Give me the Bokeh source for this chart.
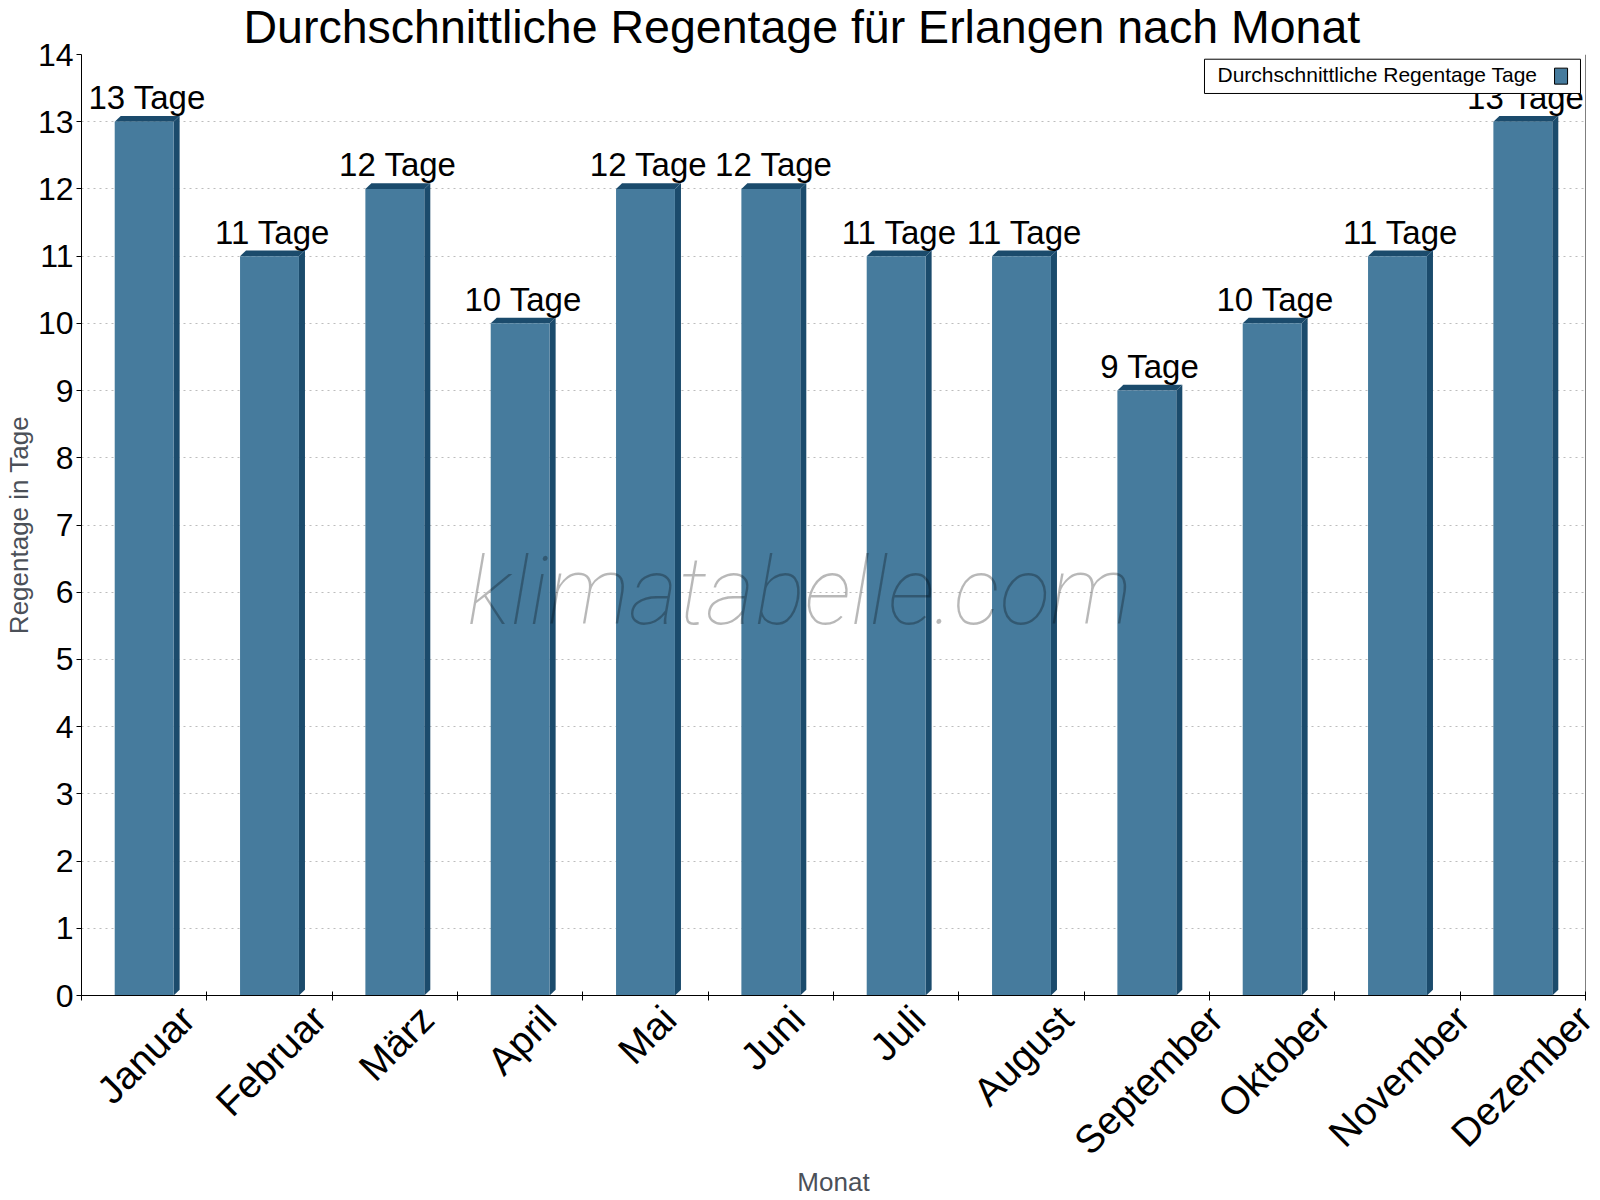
import numpy as np
from bokeh.plotting import figure
from bokeh.models import Range1d, FixedTicker, Label, BoxAnnotation, Span
from bokeh.core.properties import value
from bokeh.embed import file_html
from bokeh.resources import INLINE

# Monthly average number of rainy days in Erlangen
months = ["Januar", "Februar", "März", "April", "Mai", "Juni", "Juli",
          "August", "September", "Oktober", "November", "Dezember"]
rain_days = [13, 11, 12, 10, 12, 12, 11, 11, 9, 10, 11, 13]
y_ticks = list(range(0, 15))
series_name = "Durchschnittliche Regentage Tage"
title_text = "Durchschnittliche Regentage für Erlangen nach Monat"
unit = "Tage"

FRONT = "#467b9d"
SHADE = "#1b4b6c"
FONT = "Liberation Sans"
AXIS_LABEL_COLOR = "#4b5058"

W, H = 1600, 1200
BORDER_L, BORDER_R, BORDER_T, BORDER_B = 81, 15, 53, 205
XLABEL_PX = 39

# advance widths (1/1000 em) of the sans font, used to centre the rotated month labels
CHAR_W = {"J": 500, "a": 556, "n": 556, "u": 556, "r": 333, "F": 611, "e": 556,
          "b": 556, "M": 833, "ä": 556, "z": 500, "A": 667, "p": 556, "i": 222,
          "l": 222, "g": 556, "s": 500, "t": 278, "S": 667, "m": 833, "O": 778,
          "k": 500, "o": 556, "N": 722, "v": 500, "D": 722}


def text_width(s, size):
    return sum(CHAR_W.get(c, 556) for c in s) / 1000.0 * size


n = len(months)
xc = np.arange(n) + 0.5
bar_w = 0.47
dx, dy = 0.048, 0.085  # depth of the pseudo-3D extrusion (data units)
px_per_x = (W - BORDER_L - BORDER_R) / n

p = figure(width=W, height=H,
           x_range=Range1d(0, n), y_range=Range1d(0, 14),
           output_backend="svg", toolbar_location=None,
           min_border_left=BORDER_L, min_border_right=BORDER_R,
           min_border_top=BORDER_T, min_border_bottom=BORDER_B)
p.outline_line_color = None
p.background_fill_color = "white"
p.border_fill_color = "white"

# title, centred on the canvas
p.title.text = title_text
p.title.text_font = FONT
p.title.text_font_size = "46.5px"
p.title.text_font_style = "normal"
p.title.text_color = "black"
p.title.text_line_height = 0.9
p.title.align = "left"
p.title.offset = 162
p.title.standoff = 0
p.title.vertical_align = "top"

# grid
p.xgrid.visible = False
p.ygrid.grid_line_color = "#bdbdbd"
p.ygrid.grid_line_dash = "2 4"
p.ygrid.grid_line_width = 1

# y axis
p.yaxis.ticker = FixedTicker(ticks=y_ticks)
p.yaxis.major_tick_out = 5
p.yaxis.major_tick_in = 0
p.yaxis.minor_tick_line_color = None
p.yaxis.major_label_text_font = FONT
p.yaxis.major_label_text_font_size = "32px"
p.yaxis.major_label_text_color = "black"
p.yaxis.major_label_standoff = 3
p.yaxis.axis_line_color = "black"
p.yaxis.major_tick_line_color = "black"
p.yaxis.axis_label = "Regentage in Tage"
p.yaxis.axis_label_text_font = FONT
p.yaxis.axis_label_text_font_size = "26px"
p.yaxis.axis_label_text_font_style = "normal"
p.yaxis.axis_label_text_color = AXIS_LABEL_COLOR
p.yaxis.axis_label_standoff = 1

# x axis: rotated month names centred under each category,
# minor ticks mark the category boundaries
label_pos = [round(min(c + (0.3536 * text_width(m, XLABEL_PX) + 1.6) / px_per_x, n - 0.002), 4)
             for c, m in zip(xc, months)]
p.xaxis.ticker = FixedTicker(ticks=label_pos, minor_ticks=list(range(n + 1)))
p.xaxis.major_label_overrides = {pos: m for pos, m in zip(label_pos, months)}
p.xaxis.major_tick_in = 0
p.xaxis.major_tick_out = 0
p.xaxis.minor_tick_in = 4
p.xaxis.minor_tick_out = 5
p.xaxis.minor_tick_line_color = "black"
p.xaxis.axis_line_color = "black"
p.xaxis.major_label_orientation = np.pi / 4
p.xaxis.major_label_text_font = FONT
p.xaxis.major_label_text_font_size = f"{XLABEL_PX}px"
p.xaxis.major_label_text_color = "black"
p.xaxis.major_label_standoff = 12
p.xaxis.axis_label = "Monat"
p.xaxis.axis_label_text_font = FONT
p.xaxis.axis_label_text_font_size = "26px"
p.xaxis.axis_label_text_font_style = "normal"
p.xaxis.axis_label_text_color = AXIS_LABEL_COLOR
p.xaxis.axis_label_standoff = -14

# right frame line
p.add_layout(Span(location=n, dimension="height", line_color="black", line_width=1))

# bars: shaded side and top faces, then the front face
xl = xc - bar_w / 2
xr = xc + bar_w / 2
side_xs = [[r, r + dx, r + dx, r] for r in xr]
side_ys = [[0, dy, v + dy, v] for v in rain_days]
top_xs = [[l, l + dx, r + dx, r] for l, r in zip(xl, xr)]
top_ys = [[v, v + dy, v + dy, v] for v in rain_days]
p.patches(side_xs, side_ys, fill_color=SHADE, line_color=None)
p.patches(top_xs, top_ys, fill_color=SHADE, line_color=None)
p.vbar(x=xc, top=rain_days, width=bar_w, fill_color=FRONT, line_color=None)

# value labels
p.text(x=xc + dx / 2, y=rain_days, text=[f"{v} {unit}" for v in rain_days],
       text_align="center", text_baseline="alphabetic", y_offset=-24,
       text_font=value(FONT), text_font_size="33px", text_color="black")

# watermark
p.add_layout(Label(x=5.73, y=6.0, text="klimatabelle.com",
                   text_align="center", text_baseline="alphabetic",
                   text_font="Roboto Thin, Roboto Light, Roboto",
                   text_font_style="italic", text_font_size="94px",
                   text_color="black", text_alpha=0.28))

# legend box with swatch on the right
p.add_layout(BoxAnnotation(left=8.96, right=11.96, bottom=13.42, top=13.93,
                           fill_color="white", fill_alpha=1.0,
                           line_color="black", line_alpha=1.0, line_width=1))
p.add_layout(Label(x=9.064, y=13.70, text=series_name,
                   text_align="left", text_baseline="alphabetic",
                   text_font=FONT, text_font_size="21px", text_color="black"))
p.add_layout(BoxAnnotation(left=11.753, right=11.857, bottom=13.559, top=13.797,
                           fill_color=FRONT, fill_alpha=1.0,
                           line_color="black", line_alpha=1.0, line_width=1))

with open("out.html", "w") as f:
    f.write(file_html(p, INLINE))
